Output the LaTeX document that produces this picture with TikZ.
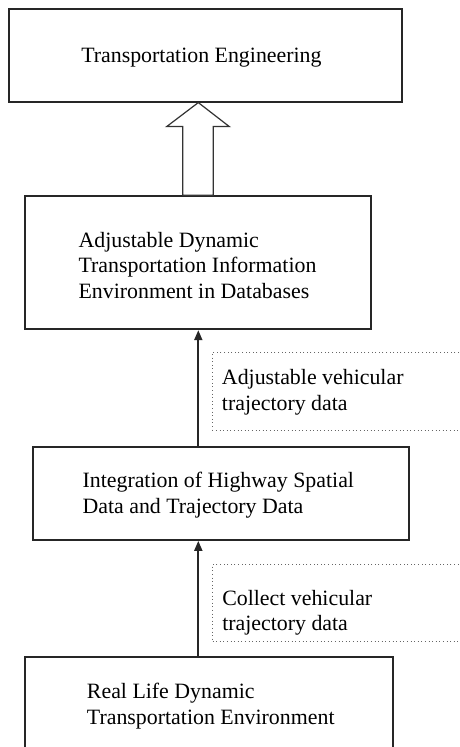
\documentclass[tikz,border=0pt]{standalone}
\usepackage{fontspec}
\setmainfont{Liberation Serif}
\usetikzlibrary{fit,arrows.meta,calc}
\begin{document}
\begin{tikzpicture}[x=0.75pt,y=-0.75pt,
  box/.style={draw=black!85, line width=1.3pt, inner sep=0pt},
  dotbox/.style={draw=black!60, dotted, line width=0.7pt, inner sep=0pt},
  txt/.style={anchor=base west, inner sep=0pt, font=\fontsize{16.4}{19.5}\selectfont, text=black},
  arr/.style={draw=black!85, line width=1.4pt, -{Triangle[length=7.5pt,width=6pt]}},
  hollow/.style={draw=black!80, line width=0.9pt, fill=white, line join=miter}]
\useasboundingbox (0,0) rectangle (460,747);
\clip (0,0) rectangle (460,747);
\fill[white] (0,0) rectangle (460,747);
\coordinate (ax) at (198.3,0);
% boxes
\node[box, fit={(9.3,8.7) (401.7,101.7)}] (b1) {};
\node[box, fit={(25,196) (370.7,329.3)}] (b2) {};
\node[box, fit={(32.7,447.3) (409.3,540)}] (b3) {};
\node[box, fit={(25,657.3) (393.3,770)}] (b4) {};
\node[dotbox, fit={(212.3,352.3) (475,430)}] (d1) {};
\node[dotbox, fit={(212.5,564.3) (475,641.7)}] (d2) {};
% texts
\node[txt] (t1) at (81,62.5) {Transportation Engineering};
\node[txt] (t2a) at (78.3,247.3) {Adjustable Dynamic};
\node[txt] (t2b) at (78.3,272.7) {Transportation Information};
\node[txt] (t2c) at (78.3,298.3) {Environment in Databases};
\node[txt] (t3a) at (82.3,487.7) {Integration of Highway Spatial};
\node[txt] (t3b) at (82.3,513.3) {Data and Trajectory Data};
\node[txt] (t4a) at (86.7,698.3) {Real Life Dynamic};
\node[txt] (t4b) at (86.7,724.3) {Transportation Environment};
\node[txt] (d1a) at (221.7,384.3) {Adjustable vehicular};
\node[txt] (d1b) at (221.7,410) {trajectory data};
\node[txt] (d2a) at (222,605) {Collect vehicular};
\node[txt] (d2b) at (222,630.7) {trajectory data};
% hollow arrow
\coordinate (tip) at (b1.south -| ax);
\coordinate (base) at (b2.north -| ax);
\draw[hollow] (tip) -- ++(31,24) -- ++(-16,0) -- ($(base)+(15,0)$) -- ($(base)+(-15.6,0)$) -- ($(tip)+(-15.6,24)$) -- ++(-16,0) -- cycle;
% connectors
\draw[arr] (b3.north -| ax) -- (b2.south -| ax);
\draw[arr] (b4.north -| ax) -- (b3.south -| ax);
\end{tikzpicture}
\end{document}
